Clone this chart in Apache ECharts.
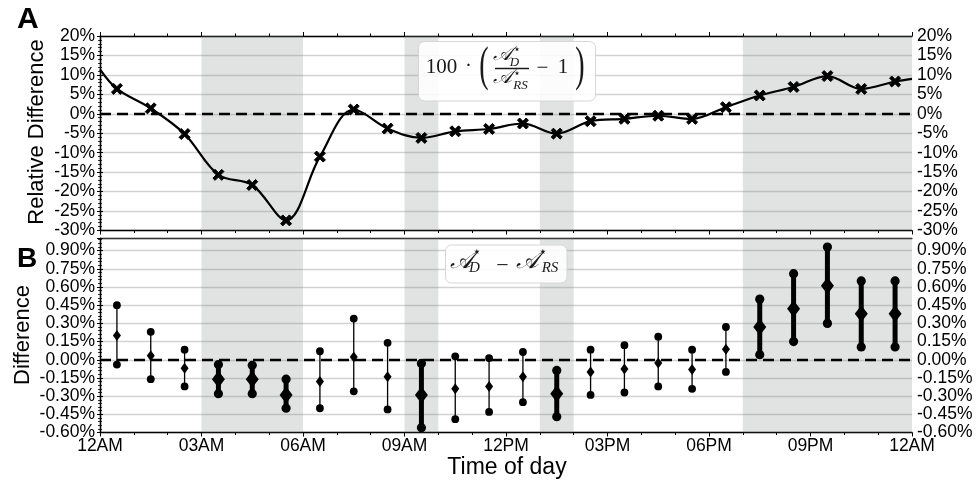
<!DOCTYPE html>
<html><head><meta charset="utf-8">
<script src="https://cdn.jsdelivr.net/npm/echarts@6/dist/echarts.min.js"></script>
<style>html,body{margin:0;padding:0;background:#fff}#c{width:979px;height:485px}</style>
</head><body><div id="c"></div>
<script>
// ---- data ----
const hours = [0.5,1.5,2.5,3.5,4.5,5.5,6.5,7.5,8.5,9.5,10.5,11.5,12.5,13.5,14.5,15.5,16.5,17.5,18.5,19.5,20.5,21.5,22.5,23.5];
const relDiff = [6.4,1.4,-5.2,-15.7,-18.3,-27.4,-11.0,1.1,-3.8,-6.2,-4.5,-3.9,-2.5,-5.1,-1.9,-1.3,-0.5,-1.3,1.7,4.7,6.9,9.7,6.4,8.3];
const curveStart = 11.4;   // curve value at 12AM (start)
const curveEnd = 9.0;      // curve value at 12AM (end)
const diffMid = [0.20,0.034,-0.07,-0.16,-0.16,-0.29,-0.18,0.022,-0.14,-0.29,-0.24,-0.22,-0.14,-0.28,-0.10,-0.077,-0.027,-0.08,0.086,0.27,0.42,0.61,0.38,0.38];
const diffHi  = [0.45,0.23,0.083,-0.04,-0.046,-0.16,0.07,0.34,0.14,-0.03,0.028,0.014,0.064,-0.088,0.083,0.12,0.19,0.083,0.27,0.50,0.71,0.93,0.65,0.65];
const diffLo  = [-0.04,-0.16,-0.22,-0.28,-0.28,-0.40,-0.40,-0.26,-0.41,-0.56,-0.49,-0.43,-0.35,-0.47,-0.29,-0.27,-0.22,-0.24,-0.10,0.042,0.15,0.30,0.105,0.105];
const xTickLabels = ['12AM','03AM','06AM','09AM','12PM','03PM','06PM','09PM','12AM'];
const shadedHours = [[3,6],[9,10],[13,14],[19,24]];

const FONT = '"Liberation Sans", Arial, sans-serif';
const SERIF = '"Liberation Serif", "DejaVu Serif", serif';
const SCR = '"DejaVu Serif", "DejaVu Sans", "Noto Sans", serif';
const SHADE = 'rgba(128,135,135,0.24)';

const lineData = [[0, curveStart]].concat(hours.map((h,i)=>[h, relDiff[i]])).concat([[24, curveEnd]]);
const markerData = hours.map((h,i)=>[h, relDiff[i]]);
const barData = hours.map((h,i)=>[h, diffLo[i], diffMid[i], diffHi[i]]);
const areas = shadedHours.map(s=>[{xAxis:s[0]},{xAxis:s[1]}]);

const zeroLine = {silent:true, symbol:'none', label:{show:false},
  lineStyle:{color:'#000', width:2.4, type:[11,6]}, data:[{yAxis:0}]};
const shadeArea = {silent:true, itemStyle:{color:SHADE}, data:areas};

function xAxisBase(grid, pos){
  return {type:'value', gridIndex:grid, position:pos, min:0, max:24, interval:3,
    axisLine:{show:true, onZero:false, lineStyle:{color:'#000', width:1.3}},
    axisTick:{show:true, length:4, lineStyle:{color:'#000', width:1}},
    minorTick:{show:true, splitNumber:3, length:2.5, lineStyle:{color:'#000', width:1}},
    axisLabel:{show:false}, splitLine:{show:false}};
}
function yAxisBase(grid, pos, min, max, interval, fmt, split){
  return {type:'value', gridIndex:grid, position:pos, min:min, max:max, interval:interval,
    axisLine:{show:true, lineStyle:{color:'#000', width:1.3}},
    axisTick:{show:true, length:3, lineStyle:{color:'#000'}},
    minorTick:{show:true, splitNumber:5, length:2, lineStyle:{color:'#000', width:0.8}},
    axisLabel:{show:true, formatter:fmt, color:'#000', fontSize:17.5, fontFamily:FONT, margin:5, showMaxLabel:(max===20)},
    splitLine:{show:split, lineStyle:{color:'#d2d2d2', width:1.4}}};
}
const fmtA = v => Math.round(v) + '%';
const fmtB = v => (Math.abs(v)<1e-9?0:v).toFixed(2) + '%';

const xAxes = [
  xAxisBase(0,'bottom'), xAxisBase(0,'top'),
  Object.assign(xAxisBase(1,'bottom'), {axisLabel:{show:true, color:'#000', fontSize:17.5, fontFamily:FONT, margin:5,
    formatter: v => xTickLabels[Math.round(v/3)]}}),
  Object.assign(xAxisBase(1,'top'), {axisTick:{show:false}, minorTick:{show:false}, axisLine:{show:true, onZero:false, lineStyle:{color:'#333', width:1.3}}})
];
const yAxes = [
  yAxisBase(0,'left',-30,20,5,fmtA,true), yAxisBase(0,'right',-30,20,5,fmtA,false),
  yAxisBase(1,'left',-0.6,1.0,0.15,fmtB,true), yAxisBase(1,'right',-0.6,1.0,0.15,fmtB,false)
];

const xPath = 'path://M-1,-0.6 L-0.6,-1 L0,-0.4 L0.6,-1 L1,-0.6 L0.4,0 L1,0.6 L0.6,1 L0,0.4 L-0.6,1 L-1,0.6 L-0.4,0 Z';

function t(text, x, y, size, opts, extra){
  return Object.assign({type:'text', x:x, y:y, z:100, style:Object.assign({text:text, fontSize:size, fontFamily:SERIF, fill:'#1a1a1a', align:'center', verticalAlign:'middle'}, opts||{})}, extra||{});
}
const graphics = [
  {type:'text', left:17, top:5, z:100, style:{text:'A', font:'bold 30px ' + FONT, fill:'#000'}},
  {type:'text', left:17, top:245, z:100, style:{text:'B', font:'bold 28px ' + FONT, fill:'#000'}},
  t('Relative Difference', 37, 132, 22, {fontFamily:FONT, fill:'#000'}, {rotation:Math.PI/2}),
  t('Difference', 23, 335, 22, {fontFamily:FONT, fill:'#000'}, {rotation:Math.PI/2}),
  t('Time of day', 507, 468, 23, {fontFamily:FONT, fill:'#000'}),
  // formula box A
  {type:'rect', z:90, shape:{x:418.5, y:41.5, width:177, height:59.5, r:6}, style:{fill:'rgba(255,255,255,0.88)', stroke:'#d6d6d6', lineWidth:1}},
  t('100', 441.5, 67.5, 21),
  t('·', 468.5, 66.5, 21),
  t('(', 484, 67.5, 28, {}, {scaleY:1.75}),
  t('𝒜', 502, 55, 20, {fontFamily:SCR, fontStyle:'italic'}),
  t('⋆', 517, 50, 12, {fontFamily:SCR}),
  t('D', 514.5, 62.5, 13, {fontStyle:'italic'}),
  {type:'line', z:100, shape:{x1:495, y1:68.5, x2:529, y2:68.5}, style:{stroke:'#1a1a1a', lineWidth:1.5}},
  t('𝒜', 502, 78, 20, {fontFamily:SCR, fontStyle:'italic'}),
  t('⋆', 517, 73.5, 12, {fontFamily:SCR}),
  t('RS', 520.5, 86, 13, {fontStyle:'italic'}),
  t('−', 542.5, 68.5, 21),
  t('1', 563, 67.5, 21),
  t(')', 580, 67.5, 28, {}, {scaleY:1.75}),
  // formula box B
  {type:'rect', z:90, shape:{x:445.5, y:245, width:121.5, height:38, r:6}, style:{fill:'rgba(255,255,255,0.88)', stroke:'#d6d6d6', lineWidth:1}},
  t('𝒜', 461, 261.5, 24, {fontFamily:SCR, fontStyle:'italic'}),
  t('⋆', 477, 252.5, 14, {fontFamily:SCR}),
  t('D', 474.5, 268.5, 15, {fontStyle:'italic'}),
  t('−', 502.5, 266.5, 22),
  t('𝒜', 527, 261.5, 24, {fontFamily:SCR, fontStyle:'italic'}),
  t('⋆', 543, 252.5, 14, {fontFamily:SCR}),
  t('RS', 550, 268.5, 15, {fontStyle:'italic'})
];

const chart = echarts.init(document.getElementById('c'), null, {renderer:'canvas'});
chart.setOption({
  animation:false,
  backgroundColor:'#fff',
  grid:[
    {left:100, width:812, top:36, height:194.5, show:false},
    {left:100, width:812, top:238.5, height:194, show:false}
  ],
  xAxis:xAxes,
  yAxis:yAxes,
  graphic:graphics,
  series:[
    {type:'line', name:'relCurve', xAxisIndex:0, yAxisIndex:0, data:lineData, smooth:0.35, showSymbol:false, symbol:'none',
      lineStyle:{color:'#000', width:2.2}, z:5,
      markArea:shadeArea, markLine:zeroLine},
    {type:'scatter', name:'relPoints', xAxisIndex:0, yAxisIndex:0, data:markerData, symbol:xPath, symbolSize:11,
      itemStyle:{color:'#000', borderColor:'#000', borderWidth:1, opacity:1}, z:6},
    {type:'custom', name:'diff', xAxisIndex:2, yAxisIndex:2, data:barData, z:6,
      encode:{x:0, y:[1,2,3]},
      markArea:shadeArea, markLine:zeroLine,
      renderItem:function(params, api){
        const x = api.value(0), lo = api.value(1), mid = api.value(2), hi = api.value(3);
        const pl = api.coord([x, lo]), pm = api.coord([x, mid]), ph = api.coord([x, hi]);
        const thick = lo > 0 || hi < 0;
        const lw = thick ? 5 : 1.3, r = thick ? 4.6 : 3.9, dw = thick ? 6.5 : 4, dh = thick ? 8.5 : 5.5;
        return {type:'group', children:[
          {type:'line', shape:{x1:pl[0], y1:pl[1], x2:ph[0], y2:ph[1]}, style:{stroke:'#000', lineWidth:lw}},
          {type:'circle', shape:{cx:pl[0], cy:pl[1], r:r}, style:{fill:'#000'}},
          {type:'circle', shape:{cx:ph[0], cy:ph[1], r:r}, style:{fill:'#000'}},
          {type:'polygon', shape:{points:[[pm[0], pm[1]-dh],[pm[0]+dw, pm[1]],[pm[0], pm[1]+dh],[pm[0]-dw, pm[1]]]}, style:{fill:'#000'}}
        ]};
      }}
  ]
});
</script></body></html>
